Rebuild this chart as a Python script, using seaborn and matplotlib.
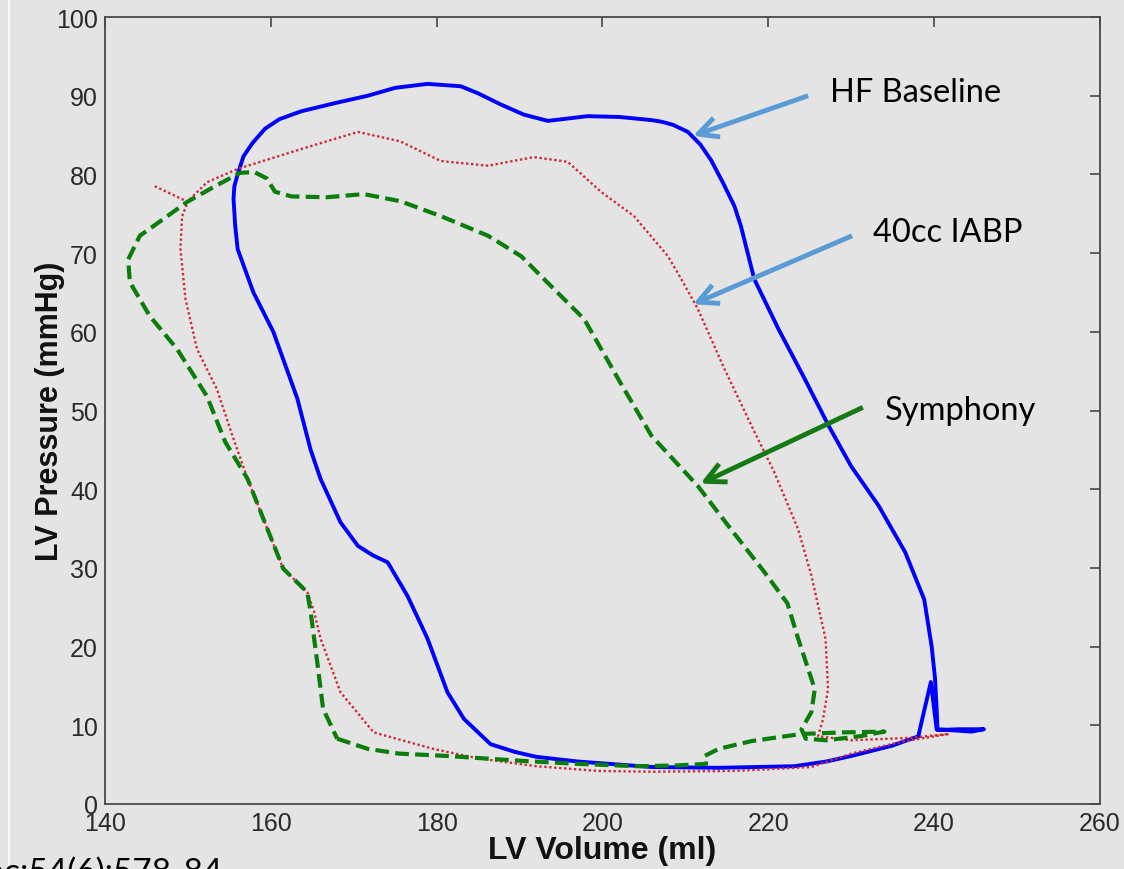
import matplotlib
matplotlib.use("Agg")
import matplotlib.pyplot as plt
from matplotlib.lines import Line2D
import seaborn as sns

# ---------------- data ----------------
hf_vol = [189.5, 192.0, 197.0, 205.9, 214.0, 223.1, 227.0, 230.0, 234.9, 238.1,
          238.3, 239.6, 240.3, 244.5, 246.0, 243.0, 240.4, 240.3, 240.1, 239.7,
          238.8, 236.5, 233.3, 230.0, 227.3, 224.4, 221.2, 218.3, 216.7, 215.9,
          214.5, 213.1, 211.8, 210.3, 208.5, 207.1, 205.9, 202.0, 198.2, 193.4,
          190.5, 187.7, 185.0, 182.9, 178.9, 175.0, 171.7, 167.5, 163.6, 161.0,
          159.3, 157.8, 156.7, 156.0, 155.6, 155.5, 155.7, 156.0, 157.9, 160.3,
          163.2, 164.8, 166.0, 168.4, 170.5, 172.3, 174.1, 176.5, 178.9, 181.3,
          183.3, 186.5, 189.5]
hf_p = [6.6, 6.0, 5.4, 4.7, 4.6, 4.8, 5.4, 6.1, 7.4, 8.6,
        9.6, 15.5, 9.5, 9.2, 9.5, 9.5, 9.4, 12.0, 16.0, 20.0,
        26.0, 32.0, 37.9, 42.9, 48.0, 54.0, 60.4, 66.7, 73.4, 76.0,
        79.0, 81.8, 83.8, 85.4, 86.3, 86.7, 86.9, 87.3, 87.4, 86.8,
        87.6, 88.9, 90.3, 91.2, 91.5, 91.0, 90.0, 89.0, 88.0, 87.0,
        85.8, 84.0, 82.3, 80.0, 78.5, 76.9, 73.5, 70.5, 65.0, 60.0,
        51.5, 45.0, 41.3, 35.8, 32.8, 31.6, 30.7, 26.4, 21.0, 14.2,
        10.8, 7.6, 6.6]

iabp_vol = [146.0, 148.0, 150.0, 149.3, 149.1, 149.7, 151.1, 153.5, 155.3, 157.2,
            159.6, 161.5, 164.4, 165.2, 166.0, 168.4, 172.4, 179.6, 185.0, 192.0,
            199.5, 205.9, 215.9, 225.2, 230.0, 236.0, 241.8, 237.0, 230.0, 226.0,
            226.6, 227.2, 226.9, 225.2, 223.6, 220.7, 218.0, 214.7, 211.5, 209.5,
            207.9, 203.8, 199.8, 195.8, 191.7, 186.2, 180.5, 175.6, 170.5, 163.6,
            156.0, 152.3, 150.2]
iabp_p = [78.5, 77.5, 76.5, 74.7, 70.5, 64.2, 57.8, 52.7, 47.0, 41.3,
          34.9, 29.9, 26.9, 24.5, 21.0, 14.2, 9.1, 7.0, 5.8, 4.8,
          4.2, 4.1, 4.2, 4.7, 6.4, 7.9, 8.9, 8.4, 8.1, 8.6,
          10.8, 14.6, 21.0, 29.0, 34.9, 42.2, 48.0, 55.3, 62.9, 66.7,
          69.6, 74.7, 77.8, 81.6, 82.2, 81.1, 81.7, 84.2, 85.4, 83.2,
          80.7, 79.0, 76.8]

symph_vol = [168.0, 171.7, 175.5, 181.3, 190.0, 197.0, 204.2, 209.0, 212.5, 212.3,
             214.0, 218.0, 224.0, 229.0, 234.0, 231.0, 227.0, 224.5, 224.0, 225.2,
             225.6, 223.6, 222.3, 219.5, 215.5, 211.5, 205.9, 201.9, 197.8, 193.8,
             190.2, 186.2, 180.5, 175.6, 171.2, 166.8, 162.5, 160.5, 159.5, 158.0,
             156.3, 153.1, 149.9, 147.0, 144.2, 142.8, 143.0, 145.4, 148.7, 152.3,
             154.5, 157.2, 159.6, 161.5, 164.4, 164.8, 165.6, 166.3, 168.0]
symph_p = [8.3, 7.0, 6.4, 6.1, 5.5, 5.1, 4.8, 4.9, 5.1, 6.1,
           7.0, 8.0, 8.9, 9.1, 9.2, 8.6, 8.1, 8.3, 9.5, 11.7,
           14.6, 21.0, 25.5, 29.5, 34.9, 40.4, 46.8, 54.0, 61.6, 65.8,
           69.6, 72.2, 74.7, 76.6, 77.5, 77.1, 77.2, 77.8, 79.5, 80.3,
           80.2, 78.4, 76.5, 74.3, 72.2, 69.2, 66.3, 62.0, 57.8, 51.8,
           46.0, 41.3, 34.9, 29.9, 26.9, 24.4, 18.0, 12.1, 8.3]

x_ticks = [140, 160, 180, 200, 220, 240, 260]
y_ticks = [0, 10, 20, 30, 40, 50, 60, 70, 80, 90, 100]

labels = ["HF Baseline", "40cc IABP", "Symphony"]
x_label = "LV Volume (ml)"
y_label = "LV Pressure (mmHg)"
citation = "Soc;54(6):578-84"

# ---------------- styling ----------------
sns.set_style("white")
plt.rcParams["font.family"] = ["Liberation Sans", "DejaVu Sans"]

BG = "#e4e4e4"
fig = plt.figure(figsize=(11.24, 8.70), dpi=100, facecolor=BG)
ax = fig.add_axes([105 / 1124, 65 / 870, 995 / 1124, 787 / 870])
ax.set_facecolor(BG)

sns.lineplot(x=hf_vol, y=hf_p, sort=False, estimator=None, ax=ax,
             color="#0000ff", lw=2.8, solid_joinstyle="round", legend=False)
sns.lineplot(x=iabp_vol, y=iabp_p, sort=False, estimator=None, ax=ax,
             color="#cf2a38", lw=1.7, linestyle=(0, (1.0, 1.1)), legend=False)
sns.lineplot(x=symph_vol, y=symph_p, sort=False, estimator=None, ax=ax,
             color="#0a7d0a", lw=3.0, linestyle=(0, (3.3, 1.5)), legend=False)

ax.set_xlim(x_ticks[0], x_ticks[-1])
ax.set_ylim(y_ticks[0], y_ticks[-1])
ax.set_xticks(x_ticks)
ax.set_yticks(y_ticks)
ax.tick_params(axis="both", which="both", direction="in", length=7, width=1.1,
               color="#3a3a3a", labelsize=18, labelcolor="#2a2a2a", pad=5,
               top=True, right=True)
for s in ax.spines.values():
    s.set_visible(True)
    s.set_color("#4a4a4a")
    s.set_linewidth(1.3)

ax.set_xlabel(x_label, fontsize=23, fontweight="bold", color="#111111")
ax.set_ylabel(y_label, fontsize=22, fontweight="bold", color="#111111")
ax.xaxis.set_label_coords(0.5, -0.040)
ax.yaxis.set_label_coords(-0.040, 0.5)

# ---------------- annotations ----------------
ann_font = ["Lato", "DejaVu Sans"]
arrow_specs = [
    # text, text pos, tail, tip, colour
    (labels[0], (227.4, 89.3), (224.8, 90.0), (210.9, 84.9), "#5b9bd5"),
    (labels[1], (232.6, 71.5), (230.1, 72.2), (210.9, 63.5), "#5b9bd5"),
    (labels[2], (234.1, 48.9), (231.4, 50.4), (211.8, 40.7), "#157a15"),
]
for txt, tpos, tail, tip, col in arrow_specs:
    ax.annotate("", xy=tip, xytext=tail,
                arrowprops=dict(arrowstyle="->,head_length=0.72,head_width=0.36",
                                lw=3.5, color=col, shrinkA=0, shrinkB=0,
                                mutation_scale=20, capstyle="butt"))
    ax.text(tpos[0], tpos[1], txt, fontsize=23.5, family=ann_font,
            color="black", ha="left", va="baseline")

# slide decorations
fig.add_artist(Line2D([9 / 1124, 9 / 1124], [0, 1], color="white", lw=1.2,
                      transform=fig.transFigure))
fig.text(223 / 1124, 1 - 858 / 870, citation, fontsize=24, family=ann_font,
         ha="right", va="top", color="black")

fig.savefig("out.png", dpi=100, facecolor=BG)
